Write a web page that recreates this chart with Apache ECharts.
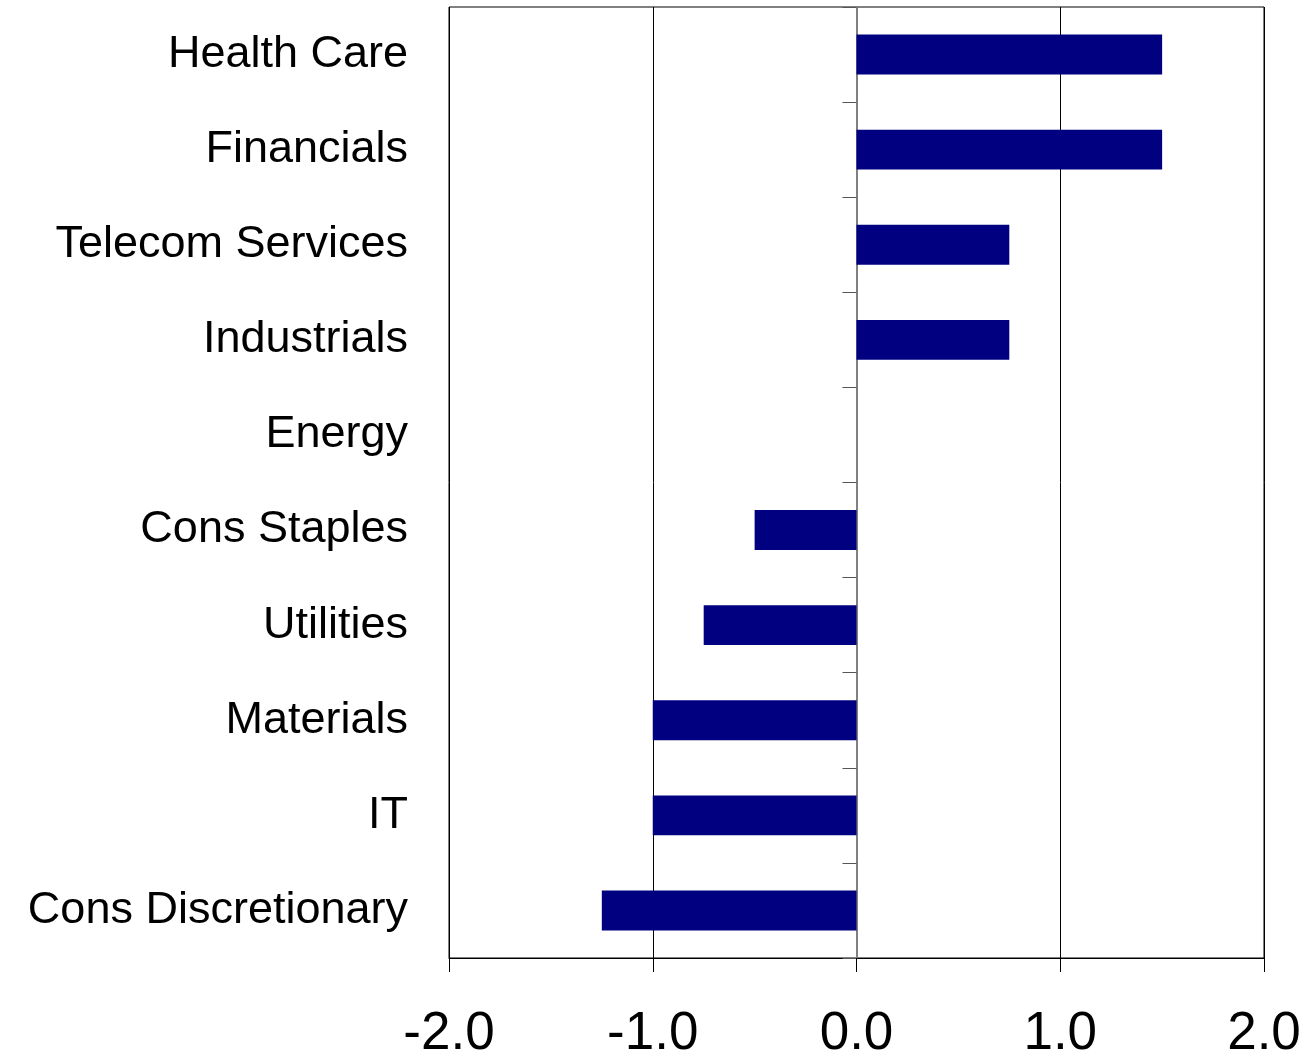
<!DOCTYPE html>
<html>
<head>
<meta charset="utf-8">
<script src="https://cdn.jsdelivr.net/npm/echarts@6/dist/echarts.min.js"></script>
<style>
  html, body { margin: 0; padding: 0; background: #fff; }
  #chart { width: 1310px; height: 1061px; }
</style>
</head>
<body>
<div id="chart"></div>
<script>
// Sector categories, top to bottom
const sectors = [
  'Health Care', 'Financials', 'Telecom Services', 'Industrials', 'Energy',
  'Cons Staples', 'Utilities', 'Materials', 'IT', 'Cons Discretionary'
];
// Value for each sector
const values = [1.5, 1.5, 0.75, 0.75, 0, -0.5, -0.75, -1.0, -1.0, -1.25];
// Value-axis range and ticks
const xMin = -2, xMax = 2, xStep = 1;

const chart = echarts.init(document.getElementById('chart'), null, { renderer: 'canvas' });
const font = '"Liberation Sans", Arial, sans-serif';

chart.setOption({
  animation: false,
  grid: {
    left: 449, right: 46, top: 7, bottom: 101,
    show: true, borderColor: '#000', borderWidth: 1
  },
  xAxis: {
    type: 'value',
    min: xMin, max: xMax, interval: xStep,
    axisLine: { show: true, onZero: false, lineStyle: { color: '#000', width: 1 } },
    axisTick: { show: true, length: 14, lineStyle: { color: '#000' } },
    splitLine: { show: true, lineStyle: { color: '#000', width: 1 } },
    axisLabel: {
      margin: 50, color: '#000', fontFamily: font, fontSize: 53,
      formatter: v => v.toFixed(1)
    }
  },
  yAxis: [
    {
      // labels along the left side of the plot
      type: 'category', data: sectors, inverse: true,
      axisLine: { show: false, onZero: false },
      axisTick: { show: false },
      splitLine: { show: false },
      axisLabel: { margin: 41, color: '#000', fontFamily: font, fontSize: 45 }
    },
    {
      // zero line with category ticks
      type: 'category', data: sectors, inverse: true, position: 'left',
      axisLine: { show: true, onZero: true, lineStyle: { color: '#808080', width: 2 } },
      axisTick: { show: true, length: 14, lineStyle: { color: '#555', width: 1 } },
      axisLabel: { show: false },
      splitLine: { show: false }
    }
  ],
  series: [{
    type: 'bar',
    yAxisIndex: 0,
    data: values,
    barWidth: '42%',
    itemStyle: { color: '#000080' },
    z: 1
  }]
});
</script>
</body>
</html>
